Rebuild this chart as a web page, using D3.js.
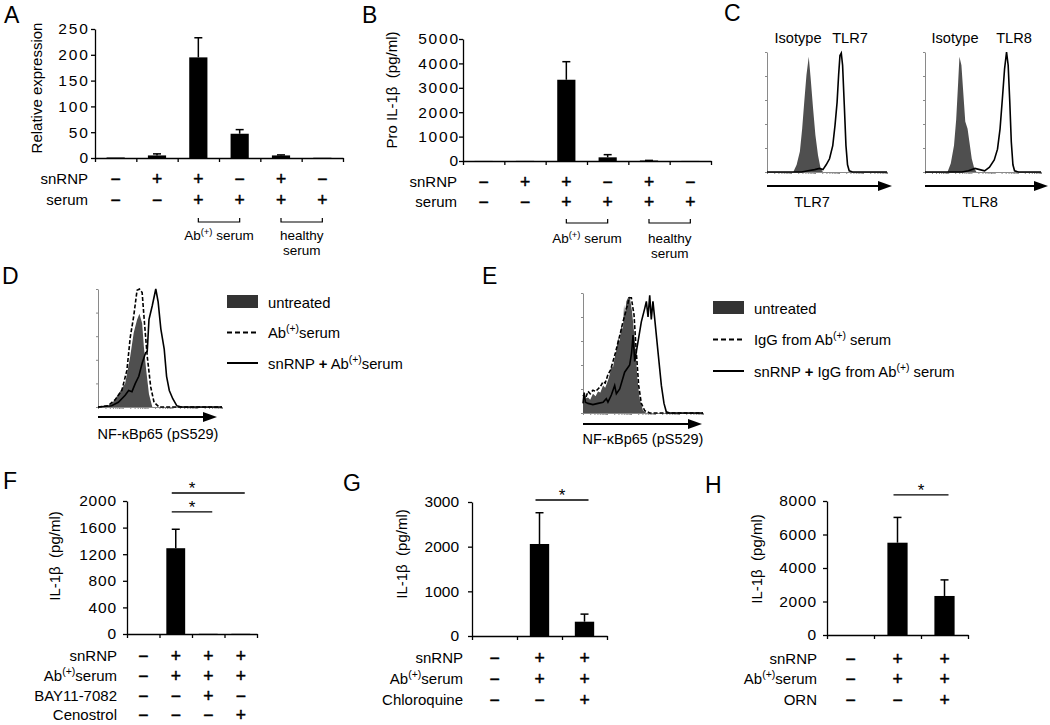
<!DOCTYPE html>
<html>
<head>
<meta charset="utf-8">
<script src="https://cdn.jsdelivr.net/npm/d3@7"></script>
<style>
  body { margin: 0; background: #fff; }
  svg { display: block; }
</style>
</head>
<body>
<svg id="fig" width="1050" height="725"></svg>
<script>
// ---- data ----
const ticksA = [0, 50, 100, 150, 200, 250];
const valsA = [1, 5, 195, 47, 5, 0.5];
const errA = [0.3, 3, 38, 8, 1, 0.2];
const snrnpA = ['−', '+', '+', '−', '+', '−'];
const serumA = ['−', '−', '+', '+', '+', '+'];

const ticksB = [0, 1000, 2000, 3000, 4000, 5000];
const valsB = [3, 5, 3330, 150, 20, 3];
const errB = [0, 0, 740, 110, 5, 0];
const snrnpB = ['−', '+', '+', '−', '+', '−'];
const serumB = ['−', '−', '+', '+', '+', '+'];

const ticksF = [0, 400, 800, 1200, 1600, 2000];
const valsF = [0, 1290, 3, 3];
const errF = [0, 285, 0, 0];
const snrnpF = ['−', '+', '+', '+'];
const abF = ['−', '+', '+', '+'];
const bayF = ['−', '−', '+', '−'];
const cenoF = ['−', '−', '−', '+'];
const sigF = [{ from: 1, to: 3, level: 2120 }, { from: 1, to: 2, level: 1835 }];

const ticksG = [0, 1000, 2000, 3000];
const valsG = [0, 2060, 320];
const errG = [0, 700, 170];
const snrnpG = ['−', '+', '+'];
const abG = ['−', '+', '+'];
const chloroG = ['−', '−', '+'];
const sigG = [{ from: 1, to: 2, level: 3045 }];

const ticksH = [0, 2000, 4000, 6000, 8000];
const valsH = [0, 5510, 2330];
const errH = [0, 1510, 960];
const snrnpH = ['−', '+', '+'];
const abH = ['−', '+', '+'];
const ornH = ['−', '−', '+'];
const sigH = [{ from: 1, to: 2, level: 8360 }];

// flow histograms: [channel % of axis, fraction of max]
const tlr7Iso = [[0,0],[21.9,0],[24.7,0.06],[27.4,0.17],[29.3,0.36],[31,0.58],[32.9,0.81],[34.8,0.96],[36.4,0.78],[38.4,0.53],[40.3,0.31],[42.5,0.14],[44.7,0.03],[46.6,0],[100,0]];
const tlr7 = [[0,0],[28.8,0],[34.2,0.01],[39.7,0.02],[43.8,0.03],[46.6,0.02],[49.3,0.06],[52.1,0.11],[54.8,0.22],[56.7,0.39],[58.4,0.58],[59.7,0.81],[60.8,0.97],[61.9,0.99],[63,0.89],[64.4,0.56],[65.8,0.22],[67.1,0.06],[68.5,0.01],[71.2,0],[100,0]];
const tlr8Iso = [[0,0],[19.4,0],[22.2,0.07],[25,0.22],[26.9,0.44],[28.6,0.75],[29.7,0.96],[31.4,0.89],[32.8,0.69],[34.7,0.42],[36.7,0.36],[38.3,0.25],[40.3,0.11],[42.5,0.03],[44.4,0],[100,0]];
const tlr8 = [[0,0],[31.9,0],[37.5,0.01],[43.1,0.03],[47.2,0.02],[51.4,0.01],[55.6,0.04],[59.7,0.1],[62.5,0.19],[64.7,0.36],[66.7,0.61],[68.6,0.86],[70.3,1.0],[71.7,0.89],[73.1,0.58],[74.4,0.25],[75.8,0.06],[77.2,0.01],[80.6,0],[100,0]];

const dUntreated = [[0,0],[8,0],[12,0.04],[16.4,0.11],[21.9,0.2],[26,0.43],[28.8,0.63],[31.5,0.74],[33.4,0.79],[35.6,0.71],[37,0.51],[38.9,0.31],[41.1,0.11],[43.8,0],[100,0]];
const dAb = [[0,0],[8,0.01],[13.7,0.06],[19.2,0.14],[23.3,0.31],[26,0.59],[28.8,0.77],[31.5,0.99],[33.4,1.0],[35.6,0.97],[37.5,0.71],[39.7,0.43],[42.5,0.17],[45.2,0.04],[49.3,0],[100,0]];
const dSnrnpAb = [[0,0],[11,0.01],[16.4,0.04],[21.9,0.1],[24.7,0.14],[27.4,0.13],[30.1,0.2],[32.9,0.26],[35.6,0.37],[38.4,0.46],[39.7,0.47],[41.1,0.74],[43.8,0.86],[46.6,1.0],[48.5,0.89],[50.7,0.66],[53.4,0.49],[55.3,0.26],[57.5,0.14],[60.3,0.07],[63.6,0.01],[67.1,0],[100,0]];

const eUntreated = [[0,0.09],[2,0.12],[4.2,0.13],[6,0.11],[8.3,0.16],[10.5,0.14],[12.5,0.18],[14.5,0.17],[16.7,0.23],[18.5,0.21],[20.8,0.27],[22.5,0.33],[23.6,0.4],[25,0.38],[26.4,0.46],[27.8,0.52],[29.2,0.62],[30.6,0.6],[31.9,0.73],[33.3,0.7],[34.2,0.9],[35,0.82],[36.1,0.93],[37.5,0.96],[38.9,0.97],[40.8,0.85],[42.5,0.68],[43.9,0.51],[45.3,0.29],[47.2,0.12],[50,0.02],[52.8,0],[100,0]];
const eIgG = [[0,0.15],[2,0.12],[4.2,0.18],[6,0.16],[8.3,0.19],[10.5,0.18],[12.5,0.2],[14.5,0.22],[16.7,0.26],[18.5,0.25],[20.8,0.32],[23,0.36],[25,0.43],[27,0.5],[29.2,0.59],[31,0.66],[33.3,0.76],[35,0.82],[36.1,0.87],[37.2,0.9],[38.3,0.96],[40.3,0.96],[41.5,0.88],[42.5,0.82],[44.4,0.51],[46.4,0.23],[48.6,0.08],[51.4,0.02],[55.6,0],[100,0]];
const eSnrnpIgG = [[0,0.08],[1,0.17],[2,0.09],[4.2,0.08],[8.3,0.07],[12.5,0.08],[16.7,0.09],[19.4,0.12],[20.8,0.09],[23.6,0.15],[26.4,0.23],[27.8,0.16],[30.6,0.2],[34.7,0.34],[38.9,0.4],[40.5,0.5],[41.7,0.65],[43.1,0.43],[45.8,0.59],[48.6,0.76],[51.4,0.87],[52.8,0.93],[54.2,0.8],[55.6,0.98],[56.9,0.78],[58.3,0.93],[59.7,0.79],[62.5,0.51],[65.3,0.23],[67.5,0.08],[69.4,0.01],[72.2,0],[100,0]];

// ---- drawing ----
const FONT = '"Liberation Sans", Arial, Helvetica, sans-serif';
const FS = 15;       // body text size
const svg = d3.select('#fig').attr('font-family', FONT);

// text with ^superscript^ and ~bold~ segments
function rich(sel, str, size) {
  const parts = str.split(/(\^[^^]*\^|~[^~]*~)/).filter(s => s.length);
  let raised = false;
  parts.forEach(p => {
    const t = sel.append('tspan');
    if (p[0] === '^') {
      t.text(p.slice(1, -1)).attr('font-size', size * 0.7).attr('dy', -size * 0.4);
      raised = true;
      return;
    }
    if (raised) { t.attr('dy', size * 0.4); raised = false; }
    if (p[0] === '~') t.text(p.slice(1, -1)).attr('font-weight', 'bold');
    else t.text(p);
  });
  return sel;
}

function label(x, y, str, size, anchor) {
  const t = svg.append('text').attr('x', x).attr('y', y)
    .attr('font-size', size).attr('text-anchor', anchor || 'start').attr('fill', '#000');
  return rich(t, str, size);
}

function panelLetter(x, y, s) {
  svg.append('text').attr('x', x).attr('y', y).attr('font-size', 23).text(s);
}

function yTitle(x, y, str) {
  svg.append('text').attr('transform', `translate(${x},${y}) rotate(-90)`)
    .attr('text-anchor', 'middle').attr('font-size', FS).attr('xml:space', 'preserve').text(str);
}

function barPanel(p) {
  const n = p.values.length;
  const y = d3.scaleLinear().domain([0, d3.max(p.ticks)]).range([p.yBot, p.yTop]);
  const x = d3.scaleLinear().domain([0, n]).range([p.x0, p.x1]);
  const g = svg.append('g');

  const yAx = g.append('g').attr('transform', `translate(${p.x0},0)`)
    .call(d3.axisLeft(y).tickValues(p.ticks).tickFormat(d3.format('d'))
      .tickSize(4).tickPadding(p.pad - p.spacing).tickSizeOuter(0));
  const xAx = g.append('g').attr('transform', `translate(0,${p.yBot})`)
    .call(d3.axisBottom(x).tickValues(d3.range(n + 1)).tickFormat('').tickSize(4).tickSizeOuter(0));
  [yAx, xAx].forEach(a => {
    a.attr('font-family', FONT).attr('font-size', 15.5);
    a.selectAll('path, line').attr('stroke', '#000').attr('stroke-width', 1.3);
    a.selectAll('text').attr('fill', '#000').attr('letter-spacing', p.spacing);
  });

  const bw = (x(1) - x(0)) * p.barFrac;
  const idx = d3.range(n);
  g.selectAll('rect.bar').data(idx).join('rect').attr('class', 'bar')
    .attr('x', i => x(i + 0.5) - bw / 2).attr('width', bw)
    .attr('y', i => y(p.values[i])).attr('height', i => p.yBot - y(p.values[i]))
    .attr('fill', '#000');

  const withErr = idx.filter(i => p.errors[i] > 0.5);
  g.selectAll('line.err').data(withErr).join('line').attr('class', 'err')
    .attr('x1', i => x(i + 0.5)).attr('x2', i => x(i + 0.5))
    .attr('y1', i => y(p.values[i])).attr('y2', i => y(p.values[i] + p.errors[i]))
    .attr('stroke', '#000').attr('stroke-width', 1.5);
  g.selectAll('line.cap').data(withErr).join('line').attr('class', 'cap')
    .attr('x1', i => x(i + 0.5) - 4).attr('x2', i => x(i + 0.5) + 4)
    .attr('y1', i => y(p.values[i] + p.errors[i])).attr('y2', i => y(p.values[i] + p.errors[i]))
    .attr('stroke', '#000').attr('stroke-width', 1.5);

  // +/- condition table
  p.rows.forEach((r, k) => {
    const ry = p.rowY[k];
    label(p.x0 - p.labelGap, ry, r.name, FS, 'end');
    g.selectAll(null).data(r.signs).join('text')
      .attr('x', (d, i) => x(i + 0.5)).attr('y', ry + 1)
      .attr('text-anchor', 'middle').attr('font-size', 17.5)
      .attr('stroke', '#000').attr('stroke-width', 0.5).text(d => d);
  });

  // significance lines
  (p.sig || []).forEach(s => {
    const ly = y(s.level);
    g.append('line').attr('x1', x(s.from + 0.5) - 4).attr('x2', x(s.to + 0.5) + 4)
      .attr('y1', ly).attr('y2', ly).attr('stroke', '#000').attr('stroke-width', 1.3);
    g.append('text').attr('x', (x(s.from + 0.5) + x(p.starAt != null ? p.starAt : s.to + 0.5)) / 2)
      .attr('y', ly + 1).attr('text-anchor', 'middle').attr('font-size', 17).text('*');
  });

  // brackets under groups
  (p.brackets || []).forEach(b => {
    const bx1 = x(b.from + 0.5), bx2 = x(b.to + 0.5);
    g.append('path').attr('d', `M${bx1},${p.bracketY - 4}V${p.bracketY}H${bx2}V${p.bracketY - 4}`)
      .attr('fill', 'none').attr('stroke', '#000').attr('stroke-width', 1.2);
    b.text.forEach((t, j) => label((bx1 + bx2) / 2, p.bracketTextY + j * 15, t, 13.5, 'middle'));
  });
  return { x, y };
}

function arrow(x0, x1, y) {
  svg.append('line').attr('x1', x0).attr('x2', x1 - 12).attr('y1', y).attr('y2', y)
    .attr('stroke', '#000').attr('stroke-width', 1.8);
  svg.append('path').attr('d', `M${x1},${y}L${x1 - 14},${y - 5}L${x1 - 14},${y + 5}Z`).attr('fill', '#000');
}

function flowPanel(p) {
  const x = d3.scaleLinear().domain([0, 100]).range([p.x0, p.x1]);
  const y = d3.scaleLinear().domain([0, 1]).range([p.yBot, p.yTop]);
  const logx = d3.scaleLog().domain([1, 1e5]).range([p.x0, p.x1]);
  const g = svg.append('g');

  const yAx = g.append('g').attr('transform', `translate(${p.x0},0)`)
    .call(d3.axisLeft(y).tickValues([0, 0.2, 0.4, 0.6, 0.8, 1]).tickFormat('').tickSize(2).tickSizeOuter(0));
  const xAx = g.append('g').attr('transform', `translate(0,${p.yBot})`)
    .call(d3.axisBottom(logx).tickValues(logx.ticks()).tickFormat('').tickSize(2).tickSizeOuter(0));
  [yAx, xAx].forEach(a => a.selectAll('path, line').attr('stroke', '#8a8a8a').attr('stroke-width', 1));

  g.append('path').datum(p.fill)
    .attr('d', d3.area().x(d => x(d[0])).y0(p.yBot).y1(d => y(d[1])))
    .attr('fill', '#4f4f4f');
  p.lines.forEach(l => {
    g.append('path').datum(l.data)
      .attr('d', d3.line().x(d => x(d[0])).y(d => y(d[1])))
      .attr('fill', 'none').attr('stroke', '#000').attr('stroke-width', 1.6)
      .attr('stroke-dasharray', l.dash || null);
  });
  arrow(p.x0, p.arrowEnd, p.arrowY);
}

function legend(x, y0, gap, items) {
  items.forEach((it, i) => {
    const cy = y0 + i * gap;
    if (it.kind === 'box') {
      svg.append('rect').attr('x', x).attr('y', cy - 7).attr('width', 31).attr('height', 13).attr('fill', '#333');
    } else {
      svg.append('line').attr('x1', x).attr('x2', x + 31).attr('y1', cy).attr('y2', cy)
        .attr('stroke', '#000').attr('stroke-width', 2)
        .attr('stroke-dasharray', it.kind === 'dash' ? '5,3' : null);
    }
    label(x + 41, cy + 5.5, it.text, 14.8);
  });
}

// Panel A
panelLetter(4, 23, 'A');
barPanel({
  x0: 95, x1: 343, yTop: 29, yBot: 158, ticks: ticksA, values: valsA, errors: errA, barFrac: 0.44, spacing: 2, pad: 3,
  rows: [{ name: 'snRNP', signs: snrnpA }, { name: 'serum', signs: serumA }],
  rowY: [184, 205], labelGap: 7,
  brackets: [{ from: 2, to: 3, text: ['Ab^(+)^ serum'] }, { from: 4, to: 5, text: ['healthy', 'serum'] }],
  bracketY: 222, bracketTextY: 240
});
yTitle(42, 88, 'Relative expression');

// Panel B
panelLetter(362, 23, 'B');
barPanel({
  x0: 463, x1: 711, yTop: 39, yBot: 161, ticks: ticksB, values: valsB, errors: errB, barFrac: 0.44, spacing: 1.8, pad: 1,
  rows: [{ name: 'snRNP', signs: snrnpB }, { name: 'serum', signs: serumB }],
  rowY: [187, 207], labelGap: 6,
  brackets: [{ from: 2, to: 3, text: ['Ab^(+)^ serum'] }, { from: 4, to: 5, text: ['healthy', 'serum'] }],
  bracketY: 223, bracketTextY: 243
});
yTitle(397, 90, 'Pro IL-1β  (pg/ml)');

// Panel C
panelLetter(724, 21, 'C');
flowPanel({ x0: 767, x1: 887, yTop: 52, yBot: 172, fill: tlr7Iso, lines: [{ data: tlr7 }], arrowEnd: 892, arrowY: 186 });
flowPanel({ x0: 925, x1: 1041, yTop: 52, yBot: 172, fill: tlr8Iso, lines: [{ data: tlr8 }], arrowEnd: 1048, arrowY: 186 });
label(798, 43, 'Isotype', 14.6, 'middle');
label(850, 43, 'TLR7', 14.6, 'middle');
label(955, 43, 'Isotype', 14.6, 'middle');
label(1014, 43, 'TLR8', 14.6, 'middle');
label(812, 207, 'TLR7', 14.6, 'middle');
label(980, 207, 'TLR8', 14.6, 'middle');

// Panel D
panelLetter(2, 284, 'D');
flowPanel({ x0: 98, x1: 222, yTop: 289, yBot: 407,
  fill: dUntreated, lines: [{ data: dAb, dash: '4,2' }, { data: dSnrnpAb }], arrowEnd: 217, arrowY: 417 });
label(158, 439, 'NF-κBp65 (pS529)', 14.5, 'middle');
legend(227, 302, 30.5, [
  { kind: 'box', text: 'untreated' },
  { kind: 'dash', text: 'Ab^(+)^serum' },
  { kind: 'line', text: 'snRNP ~+~ Ab^(+)^serum' }
]);

// Panel E
panelLetter(482, 284, 'E');
flowPanel({ x0: 583, x1: 703, yTop: 293, yBot: 413,
  fill: eUntreated, lines: [{ data: eIgG, dash: '4,2' }, { data: eSnrnpIgG }], arrowEnd: 702, arrowY: 424 });
label(643, 444, 'NF-κBp65 (pS529)', 14.5, 'middle');
legend(713, 308, 31.5, [
  { kind: 'box', text: 'untreated' },
  { kind: 'dash', text: 'IgG from Ab^(+)^ serum' },
  { kind: 'line', text: 'snRNP ~+~ IgG from Ab^(+)^ serum' }
]);

// Panel F
panelLetter(3, 489, 'F');
barPanel({
  x0: 127, x1: 257, yTop: 501, yBot: 634, ticks: ticksF, values: valsF, errors: errF, barFrac: 0.58, spacing: 0.8, pad: 7,
  rows: [{ name: 'snRNP', signs: snrnpF }, { name: 'Ab^(+)^serum', signs: abF },
         { name: 'BAY11-7082', signs: bayF }, { name: 'Cenostrol', signs: cenoF }],
  rowY: [661, 681, 701, 720], labelGap: 10, sig: sigF, starAt: 2.5
});
yTitle(60, 556, 'IL-1β  (pg/ml)');

// Panel G
panelLetter(343, 491, 'G');
barPanel({
  x0: 472, x1: 607, yTop: 502, yBot: 636, ticks: ticksG, values: valsG, errors: errG, barFrac: 0.43, spacing: 0, pad: 9,
  rows: [{ name: 'snRNP', signs: snrnpG }, { name: 'Ab^(+)^serum', signs: abG }, { name: 'Chloroquine', signs: chloroG }],
  rowY: [663, 684, 705], labelGap: 9, sig: sigG
});
yTitle(407, 554, 'IL-1β  (pg/ml)');

// Panel H
panelLetter(705, 493, 'H');
barPanel({
  x0: 827, x1: 968, yTop: 501, yBot: 635, ticks: ticksH, values: valsH, errors: errH, barFrac: 0.43, spacing: 0.8, pad: 7,
  rows: [{ name: 'snRNP', signs: snrnpH }, { name: 'Ab^(+)^serum', signs: abH }, { name: 'ORN', signs: ornH }],
  rowY: [664, 684, 705], labelGap: 10, sig: sigH
});
yTitle(762, 559, 'IL-1β  (pg/ml)');
</script>
</body>
</html>
